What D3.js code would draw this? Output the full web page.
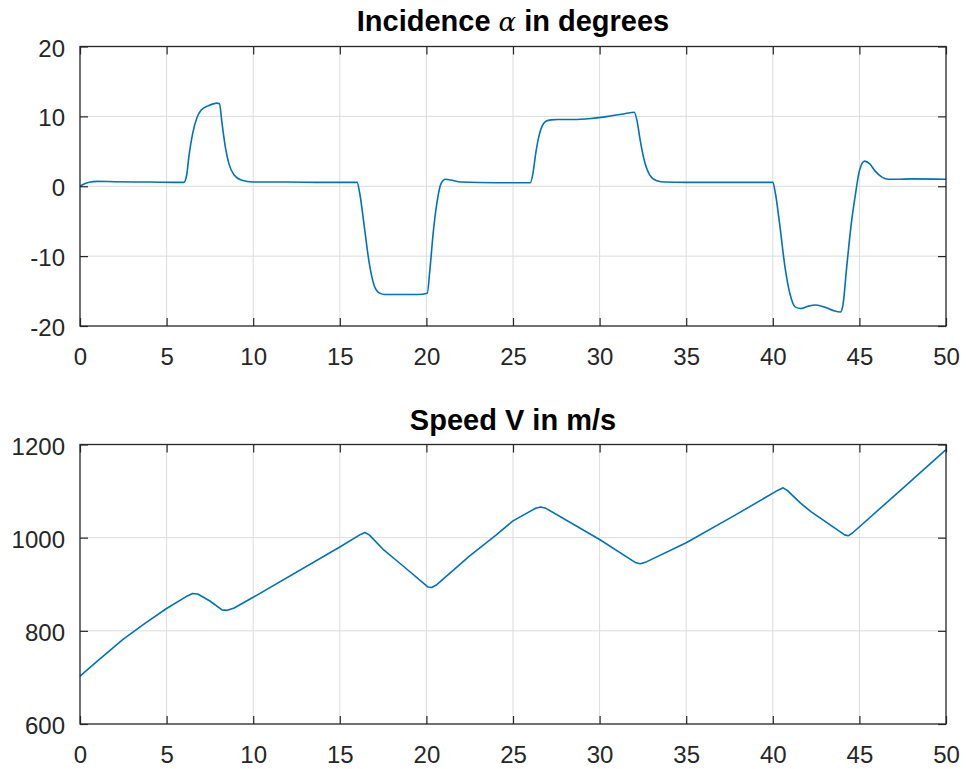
<!DOCTYPE html>
<html>
<head>
<meta charset="utf-8">
<script src="https://cdn.jsdelivr.net/npm/d3@7"></script>
<style>
  html, body { margin: 0; padding: 0; background: #ffffff; }
  svg { display: block; }
</style>
</head>
<body>
<svg id="chart" width="966" height="769"></svg>
<script>
// ---- data ----
const alphaTime = [0, 0.3, 0.6, 1.0, 2, 4, 6.0, 6.15, 6.3, 6.5, 6.75, 7.0, 7.4, 7.9, 8.05, 8.2, 8.4, 8.6, 8.9, 9.3, 10, 12, 14, 16.0, 16.15, 16.4, 16.7, 17.0, 17.3, 17.6, 18.5, 19.5, 20.05, 20.2, 20.4, 20.6, 20.85, 21.1, 21.4, 22, 24, 26.0, 26.15, 26.3, 26.5, 26.7, 26.9, 27.2, 27.6, 28.5, 29.5, 30.5, 31.5, 32.0, 32.15, 32.35, 32.6, 32.9, 33.3, 33.8, 35, 38, 40.0, 40.15, 40.4, 40.7, 41.0, 41.3, 41.6, 42.0, 42.5, 43.0, 43.5, 43.9, 44.05, 44.25, 44.5, 44.75, 45.0, 45.3, 45.6, 45.9, 46.3, 46.7, 47.2, 48, 50];
const alphaValues = [0, 0.4, 0.6, 0.7, 0.65, 0.6, 0.55, 1.5, 4.5, 7.5, 9.8, 10.9, 11.5, 11.9, 11.8, 9.0, 5.5, 3.2, 1.6, 0.9, 0.6, 0.6, 0.55, 0.55, -1.0, -5.5, -11, -14.3, -15.3, -15.5, -15.5, -15.5, -15.3, -12, -6.5, -2.5, 0.4, 1.0, 0.9, 0.6, 0.5, 0.5, 1.8, 4.5, 7.2, 8.7, 9.3, 9.5, 9.55, 9.55, 9.7, 10.0, 10.4, 10.6, 9.5, 6.5, 3.5, 1.6, 0.8, 0.6, 0.55, 0.55, 0.55, -1.0, -5.5, -11.5, -15.5, -17.3, -17.5, -17.2, -17.0, -17.3, -17.8, -18.0, -17.0, -12, -6, -1.5, 2.2, 3.6, 3.2, 2.2, 1.3, 1.0, 1.0, 1.05, 1.0];

const speedTime = [0, 1, 2.5, 3.75, 5, 6.2, 6.5, 6.8, 7.5, 8.2, 8.5, 8.9, 10, 15, 16.2, 16.45, 16.7, 17.5, 18.5, 20.1, 20.3, 20.6, 22.5, 24, 25, 26.3, 26.6, 26.9, 30, 32.1, 32.35, 32.7, 35, 37.9, 40.3, 40.6, 40.85, 41.6, 42.2, 44.15, 44.35, 44.6, 47.5, 50];
const speedValues = [703, 735, 782, 816, 848, 875, 880, 879, 864, 845, 844, 849, 872, 980, 1007, 1011, 1006, 975, 944, 894, 893, 899, 961, 1005, 1036, 1063, 1066, 1063, 996, 946, 944, 948, 989, 1050, 1102, 1107, 1101, 1074, 1056, 1006, 1004, 1010, 1106, 1189];

const xTicks = [0, 5, 10, 15, 20, 25, 30, 35, 40, 45, 50];
const alphaTicks = [-20, -10, 0, 10, 20];
const speedTicks = [600, 800, 1000, 1200];

// ---- drawing ----
const svg = d3.select("#chart");
const axisColor = "#262626";
const gridColor = "#dcdcdc";
const lineColor = "#0072BD";
const tickFont = "'Liberation Sans', Arial, Helvetica, sans-serif";

function panel(opts) {
  const { top, bottom, left, right, xDomain, yDomain, yTicks, t, v, curve, titleParts, titleY } = opts;
  const x = d3.scaleLinear().domain(xDomain).range([left, right]);
  const y = d3.scaleLinear().domain(yDomain).range([bottom, top]);
  const g = svg.append("g");

  // grid
  g.append("g").selectAll("line").data(xTicks.slice(1, -1)).join("line")
    .attr("x1", d => x(d)).attr("x2", d => x(d))
    .attr("y1", top).attr("y2", bottom)
    .attr("stroke", gridColor).attr("stroke-width", 1);
  g.append("g").selectAll("line").data(yTicks.slice(1, -1)).join("line")
    .attr("y1", d => y(d)).attr("y2", d => y(d))
    .attr("x1", left).attr("x2", right)
    .attr("stroke", gridColor).attr("stroke-width", 1);

  // data line
  const line = d3.line().x((d, i) => x(t[i])).y(d => y(d)).curve(curve);
  g.append("path").datum(v).attr("d", line)
    .attr("fill", "none").attr("stroke", lineColor).attr("stroke-width", 1.6)
    .attr("stroke-linejoin", "round");

  // axes via d3 axes (inward ticks)
  const tl = 8;
  const fmt = d => String(d);
  const axB = d3.axisBottom(x).tickValues(xTicks).tickSize(-tl).tickFormat(fmt);
  const axT = d3.axisTop(x).tickValues(xTicks).tickSize(-tl).tickFormat("");
  const axL = d3.axisLeft(y).tickValues(yTicks).tickSize(-tl).tickFormat(fmt);
  const axR = d3.axisRight(y).tickValues(yTicks).tickSize(-tl).tickFormat("");

  const gb = g.append("g").attr("transform", `translate(0,${bottom})`).call(axB);
  const gt = g.append("g").attr("transform", `translate(0,${top})`).call(axT);
  const gl = g.append("g").attr("transform", `translate(${left},0)`).call(axL);
  const gr = g.append("g").attr("transform", `translate(${right},0)`).call(axR);
  [gb, gt, gl, gr].forEach(a => {
    a.select(".domain").remove();
    a.selectAll(".tick line").attr("stroke", axisColor).attr("stroke-width", 1.2);
    a.selectAll("text").attr("fill", "#262626").style("font-family", tickFont).style("font-size", "24px");
  });
  gb.selectAll("text").attr("dy", "0.35em").attr("y", 31);
  gl.selectAll("text").attr("dy", "0.4em").attr("x", -15);

  // box
  g.append("rect").attr("x", left).attr("y", top).attr("width", right - left).attr("height", bottom - top)
    .attr("fill", "none").attr("stroke", axisColor).attr("stroke-width", 1.3);

  // title
  const tt = g.append("text").attr("x", (left + right) / 2).attr("y", titleY)
    .attr("text-anchor", "middle").attr("fill", "#000")
    .style("font-family", tickFont).style("font-size", "29px").style("font-weight", "bold");
  titleParts.forEach(p => {
    const s = tt.append("tspan").text(p.text);
    if (p.math) {
      s.style("font-family", "'DejaVu Serif', 'Liberation Serif', serif")
        .style("font-style", "italic").style("font-weight", "normal").style("font-size", "26px");
    }
  });
}

panel({
  top: 46.5, bottom: 326, left: 80, right: 946,
  xDomain: [0, 50], yDomain: [-20, 20], yTicks: alphaTicks,
  t: alphaTime, v: alphaValues, curve: d3.curveMonotoneX,
  titleParts: [{ text: "Incidence " }, { text: "α", math: true }, { text: " in degrees" }],
  titleY: 31
});

panel({
  top: 444.5, bottom: 724, left: 80, right: 946,
  xDomain: [0, 50], yDomain: [600, 1200], yTicks: speedTicks,
  t: speedTime, v: speedValues, curve: d3.curveLinear,
  titleParts: [{ text: "Speed V in m/s" }],
  titleY: 430
});
</script>
</body>
</html>
